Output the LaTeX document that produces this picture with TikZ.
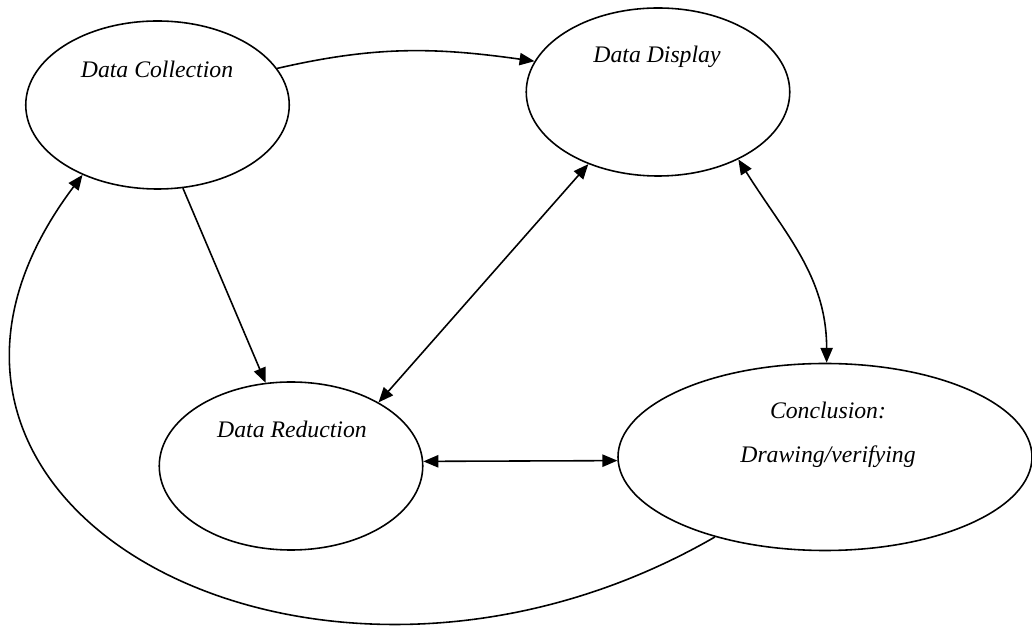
\documentclass[tikz,border=0pt]{standalone}
\usepackage{fontspec}
\setmainfont{Liberation Serif}
\usetikzlibrary{arrows.meta,shapes}

\begin{document}
\begin{tikzpicture}[auto, line width=0.9pt, >={Triangle[length=8.5pt,width=7pt]},
  stage/.style={draw, ellipse, inner sep=0pt, minimum width=5.27cm, minimum height=3.36cm},
  stagetext/.style={font=\fontsize{13.5}{25}\selectfont\itshape, align=center}]
\useasboundingbox (0,0) rectangle (20.64,12.56);
\draw
  node at (3.15,10.46)[stage](collect){}
  node at (13.16,10.72)[stage](display){}
  node at (5.82,3.24)[stage](reduce){}
  node at (16.5,3.42)[stage, minimum width=8.28cm, minimum height=3.74cm](concl){}
  node at (3.14,11.18)[stagetext](collecttext){Data Collection}
  node at (13.14,11.42)[stagetext](displaytext){Data Display}
  node at (5.84,3.98)[stagetext](reducetext){Data Reduction}
  node at (16.56,3.86)[stagetext](concltext){Conclusion:\\Drawing/verifying};
  \draw[->] (collect.17) to[out=13, in=172] (display.166);
  \draw[->] (collect.-73) -- (reduce.107);
  \draw[<->] (reduce.36) -- (display.-134);
  \draw[<->] (display.-40) to[out=-58, in=90] (concl.89);
  \draw[<->] (reduce.2) -- (concl.181);
  \draw[->] (concl.-144) to[out=210, in=233, out distance=9.2cm, in distance=8.3cm] (collect.-137);
\end{tikzpicture}
\end{document}
